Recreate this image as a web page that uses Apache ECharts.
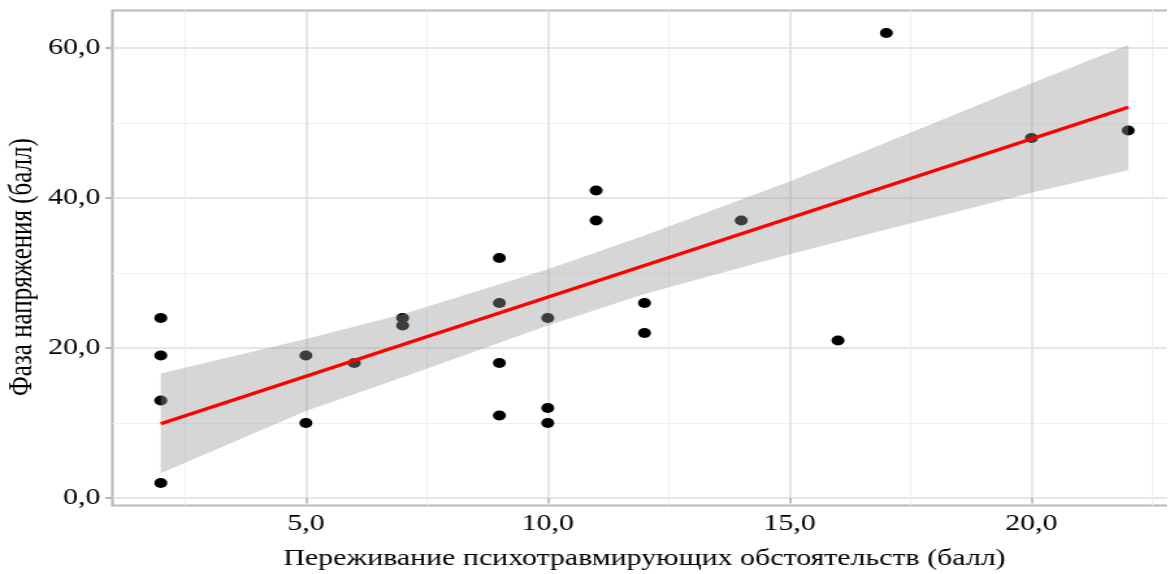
<!DOCTYPE html>
<html>
<head>
<meta charset="utf-8">
<script src="https://cdn.jsdelivr.net/npm/echarts@6/dist/echarts.min.js"></script>
<style>
  html, body { margin: 0; padding: 0; background: #fff; overflow: hidden; }
  /* the figure is drawn narrower and widened horizontally, like the stretched original plot */
  #chart { height: 574px; transform-origin: 0 0; }
</style>
</head>
<body>
<div id="chart"></div>
<script>
// Observations: experience of traumatic circumstances vs. tension phase score
const pointX = [2, 2, 2, 2, 5, 5, 6, 7, 7, 9, 9, 9, 9, 10, 10, 10, 11, 11, 12, 12, 14, 16, 17, 20, 22];
const pointY = [24, 19, 13, 2, 19, 10, 18, 24, 23, 32, 26, 18, 11, 24, 12, 10, 41, 37, 26, 22, 37, 21, 62, 48, 49];

// Fitted regression line (end points)
const fitX = [2, 22];
const fitY = [9.9, 52.1];

// Confidence band around the fit
const bandX = [2, 5, 7, 10, 12, 15, 17, 20, 22];
const bandUpper = [16.6, 21.2, 24.5, 30.5, 35.0, 42.2, 47.4, 55.3, 60.4];
const bandLower = [3.3, 11.6, 16.1, 23.0, 27.2, 32.5, 35.8, 40.7, 43.7];

// Axis ticks
const xTicks = [5, 10, 15, 20];
const yTicks = [0, 20, 40, 60];
const xMinor = [2.5, 7.5, 12.5, 17.5, 22.5];
const yMinor = [10, 30, 50];

const xTitle = 'Переживание психотравмирующих обстоятельств (балл)';
const yTitle = 'Фаза напряжения (балл)';

const SX = 1.3;               // horizontal stretch of the drawing
const W = 1168, H = 574;
const el = document.getElementById('chart');
el.style.width = (W / SX) + 'px';
el.style.transform = 'scaleX(' + SX + ')';

const FONT = '"Liberation Serif", "Times New Roman", serif';
const fmt = v => Number(v).toFixed(1).replace('.', ',');
const px = v => v / SX;       // screen px -> chart px (horizontal)

const chart = echarts.init(el, null, { renderer: 'canvas' });

const majorGrid = { show: true, lineStyle: { color: '#dedede', width: 1.5 } };
const minorGrid = { show: true, lineStyle: { color: '#efefef', width: 1 } };
const borderCol = '#b8b8b8';

chart.setOption({
  animation: false,
  backgroundColor: '#fff',
  grid: {
    left: px(112.4), right: px(1168 - 1177.2), top: 10.5, bottom: 68.5,
    show: true, borderColor: borderCol, borderWidth: 2, backgroundColor: 'transparent',
    containLabel: false, outerBoundsMode: 'none'
  },
  xAxis: [
    {
      type: 'value', min: 1, max: 23,
      axisLine: { show: false },
      axisTick: { show: true, length: 5, customValues: xTicks, lineStyle: { color: borderCol, width: 1.6 } },
      axisLabel: { customValues: xTicks, formatter: fmt, color: '#000', fontFamily: FONT, fontSize: 23, margin: 7 },
      splitLine: majorGrid,
      name: xTitle, nameLocation: 'middle', nameGap: 42, nameMoveOverlap: false,
      nameTextStyle: { color: '#000', fontFamily: FONT, fontSize: 23 }
    },
    {
      type: 'value', min: 1, max: 23, position: 'top',
      axisLine: { show: false },
      axisTick: { show: false, customValues: xMinor },
      axisLabel: { show: false, customValues: xMinor },
      splitLine: minorGrid
    }
  ],
  yAxis: [
    {
      type: 'value', min: -1, max: 65,
      axisLine: { show: false },
      axisTick: { show: true, length: px(7), customValues: yTicks, lineStyle: { color: borderCol, width: 2 } },
      axisLabel: { customValues: yTicks, formatter: fmt, color: '#000', fontFamily: FONT, fontSize: 23, margin: px(12) },
      splitLine: majorGrid,
      name: yTitle, nameLocation: 'middle', nameRotate: 90, nameGap: 56.5, nameMoveOverlap: false,
      nameTextStyle: { color: '#000', fontFamily: FONT, fontSize: 25, padding: [0, 18, 0, 0] }
    },
    {
      type: 'value', min: -1, max: 65, position: 'right',
      axisLine: { show: false },
      axisTick: { show: false, customValues: yMinor },
      axisLabel: { show: false, customValues: yMinor },
      splitLine: minorGrid
    }
  ],
  series: [
    {
      type: 'scatter', z: 2, silent: true,
      symbol: 'circle', symbolSize: 10,
      itemStyle: { color: '#000', opacity: 1 },
      data: pointX.map((x, i) => [x, pointY[i]])
    },
    {
      type: 'custom', z: 3, silent: true,
      data: [[bandX[0], bandUpper[0]]],
      renderItem: function (params, api) {
        const pts = bandX.map((x, i) => api.coord([x, bandUpper[i]]));
        for (let i = bandX.length - 1; i >= 0; i--) pts.push(api.coord([bandX[i], bandLower[i]]));
        return { type: 'polygon', shape: { points: pts }, style: { fill: 'rgba(153,153,153,0.4)' } };
      }
    },
    {
      type: 'line', z: 4, silent: true,
      symbol: 'none',
      lineStyle: { color: '#ff0000', width: 3.5 },
      data: fitX.map((x, i) => [x, fitY[i]])
    }
  ]
});
</script>
</body>
</html>
